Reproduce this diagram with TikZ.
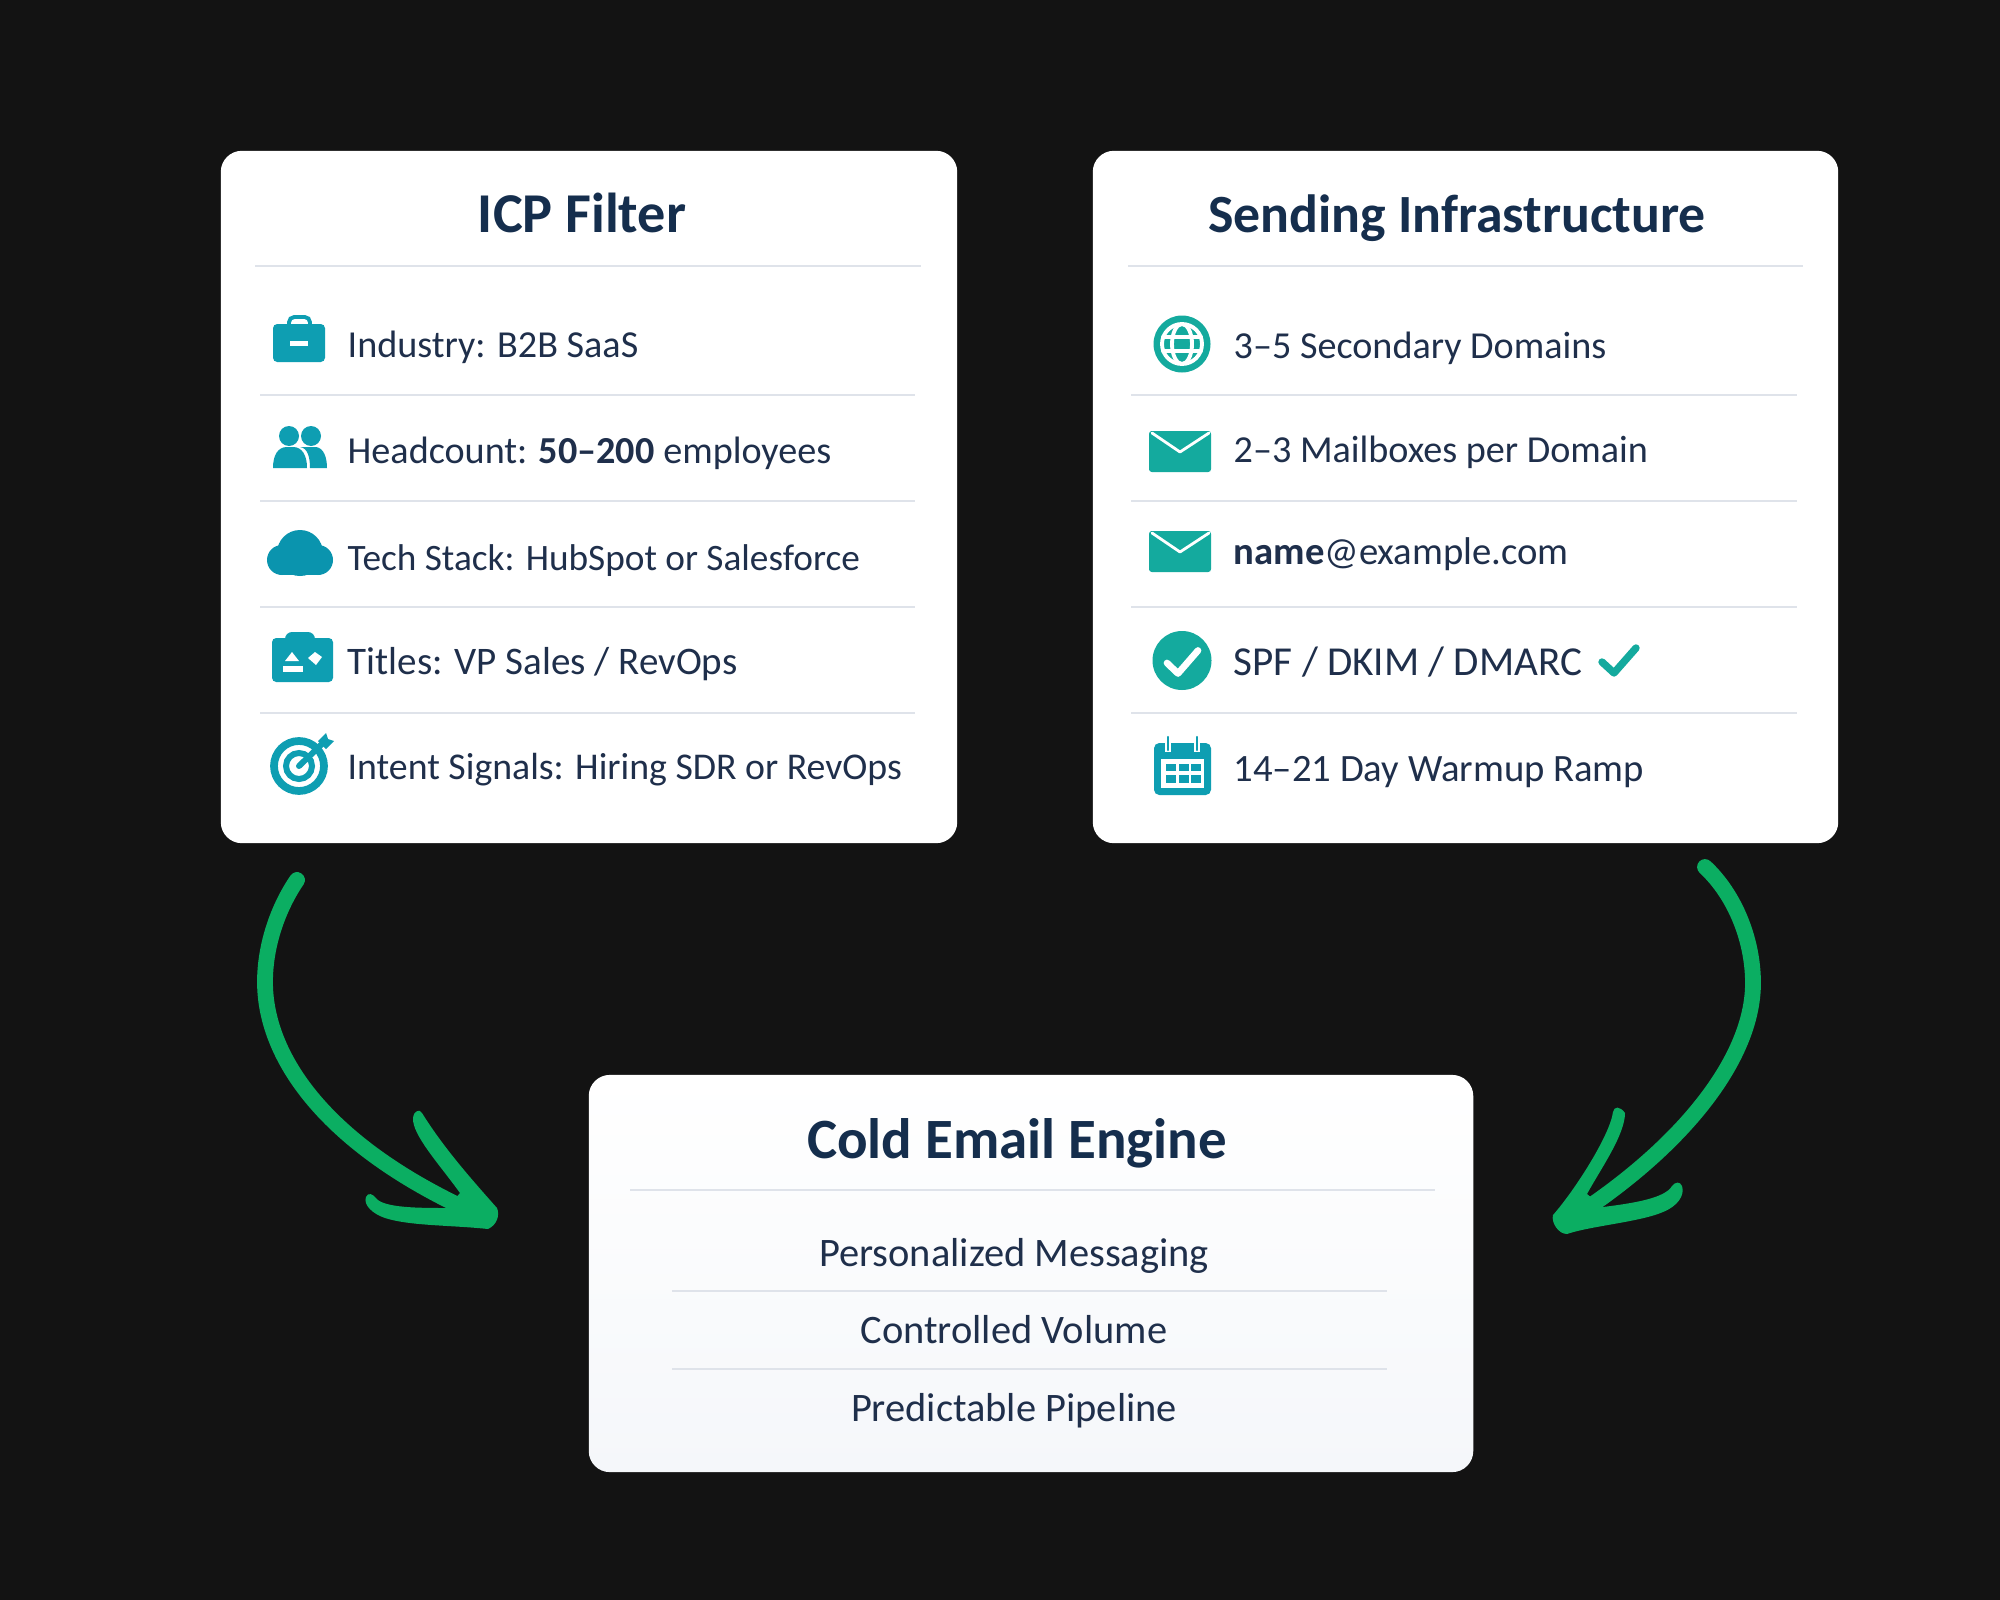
\documentclass[tikz,border=0pt]{standalone}
\usepackage{fontspec}
\setmainfont{Carlito}
\usetikzlibrary{calc}
\definecolor{pagebg}{HTML}{131313}
\definecolor{navy}{HTML}{1F2F4B}
\definecolor{titlenavy}{HTML}{152E4D}
\definecolor{rulegray}{HTML}{DFE3EA}
\definecolor{tealblue}{HTML}{0E9EB2}
\definecolor{cloudblue}{HTML}{0A94AE}
\definecolor{tealgreen}{HTML}{14AA9E}
\definecolor{arrowgreen}{HTML}{0BAE62}
\definecolor{panelfoot}{HTML}{F5F7FA}
\tikzset{
  panelbox/.style={rounded corners=6pt, inner sep=0pt, top color=white, bottom color=#1},
  paneltitle/.style={anchor=base, inner sep=0pt, text=titlenavy, font=\fontsize{#1}{18}\selectfont\bfseries},
  itemtext/.style={anchor=base west, inner sep=0pt, text=navy, font=\fontsize{#1}{12}\selectfont},
  itemtext/.default=10.85,
  centertext/.style={anchor=base, inner sep=0pt, text=navy, font=\fontsize{11.5}{12}\selectfont},
  rulerow/.style={rulegray, line width=.7pt},
  whiteline/.style={white, line cap=round, line join=round},
  arrowline/.style={arrowgreen, line width=4.5pt, line cap=round, line join=round}
}
\begin{document}
\begin{tikzpicture}[x=.01cm,y=-.01cm]
\fill[pagebg] (0,0) rectangle (2000,1600);
\useasboundingbox (0,0) rectangle (2000,1600);
% The three panels
\node[panelbox=white, minimum width=7.36cm, minimum height=6.92cm] (icp) at (589,497) {};
\node[panelbox=white, minimum width=7.45cm, minimum height=6.92cm] (infra) at (1465.5,497) {};
\node[panelbox=panelfoot, minimum width=8.84cm, minimum height=3.97cm] (engine) at (1031,1273.5) {};
\node[paneltitle=16] (icptitle) at (582,232) {ICP Filter};
\node[paneltitle=15.3] (infratitle) at (1457,232) {Sending Infrastructure};
\node[paneltitle=16.2] (enginetitle) at (1017,1158) {Cold Email Engine};
% The rules
%     left panel
\draw[rulerow] (255,266) -- (921,266);
\draw[rulerow] (260,395) -- (915,395);
\draw[rulerow] (260,501) -- (915,501);
\draw[rulerow] (260,607) -- (915,607);
\draw[rulerow] (260,713) -- (915,713);
%     right panel
\draw[rulerow] (1128,266) -- (1803,266);
\draw[rulerow] (1131,395) -- (1797,395);
\draw[rulerow] (1131,501) -- (1797,501);
\draw[rulerow] (1131,607) -- (1797,607);
\draw[rulerow] (1131,713) -- (1797,713);
%     bottom panel
\draw[rulerow] (630,1190) -- (1435,1190);
\draw[rulerow] (672,1291) -- (1387,1291);
\draw[rulerow] (672,1369) -- (1387,1369);
% The left texts
\node[itemtext] (industry) at (347,357) {Industry: B2B SaaS};
\node[itemtext] (headcount) at (347,463) {Headcount: \textbf{50–200} employees};
\node[itemtext=10.6] (techstack) at (347,570) {Tech Stack: HubSpot or Salesforce};
\node[itemtext=11.1] (titles) at (347,674) {Titles: VP Sales / RevOps};
\node[itemtext=10.75] (intent) at (347,779) {Intent Signals: Hiring SDR or RevOps};
% The right texts
\node[itemtext] (domains) at (1233,358) {3–5 Secondary Domains};
\node[itemtext] (mailboxes) at (1233,462) {2–3 Mailboxes per Domain};
\node[itemtext=11] (address) at (1233,564) {\textbf{name}@example.com};
\node[itemtext=11.7] (spf) at (1233,675) {SPF / DKIM / DMARC};
\node[itemtext=11] (warmup) at (1233,781) {14–21 Day Warmup Ramp};
% The bottom texts
\node[centertext] (messaging) at (1014,1266) {Personalized Messaging};
\node[centertext] (volume) at (1014,1343) {Controlled Volume};
\node[centertext] (pipeline) at (1014,1421) {Predictable Pipeline};
% The left icons
%     briefcase
\draw[tealblue, line width=1.1pt, rounded corners=1.5pt] (289,326) -- (289,317) -- (310,317) -- (310,326);
\fill[tealblue, rounded corners=1.2pt] (273,324) rectangle (325,362);
\fill[white] (290,341) rectangle (308,346);
%     people
\fill[tealblue] (289,436) circle (10);
\fill[tealblue] (311,436) circle (10);
\fill[tealblue] (310,468) .. controls (310,458) and (308,448) .. (300,447) -- (316,447) .. controls (324,448) and (327,458) .. (327,468) -- cycle;
\fill[tealblue] (273,468) .. controls (273,455) and (278,447) .. (287,447) -- (293,447) .. controls (302,447) and (307,455) .. (307,468) -- cycle;
%     cloud
\fill[cloudblue] (300,553) circle (23);
\fill[cloudblue] (282,560) circle (15);
\fill[cloudblue] (318,560) circle (15);
\fill[cloudblue] (282,552) rectangle (318,575);
%     id card
\fill[tealblue, rounded corners=1.2pt] (272,638) rectangle (333,682);
\fill[tealblue, rounded corners=2pt] (285,632) rectangle (315,645);
\fill[white] (285,661) -- (292,652) -- (299,661) -- cycle;
\fill[white] (283,666) rectangle (303,672);
\fill[white] (308,658) -- (315,652) -- (322,657) -- (316,665) -- cycle;
%     target
\draw[tealblue, line width=2.2pt] (299,766) circle (25);
\draw[tealblue, line width=1.7pt] (299,766) circle (13);
\draw[tealblue, line width=1.7pt, line cap=round] (299,766) -- (322,744);
\fill[tealblue] (318,741) -- (326,733) -- (328,739) -- (334,741) -- (326,749) -- cycle;
% The right icons
%     globe
\fill[tealgreen] (1182,344) circle (28.5);
\draw[whiteline, line width=1.1pt] (1182,344) circle (20);
\draw[whiteline, line width=1.1pt] (1182,344) ellipse (10 and 20);
\draw[whiteline, line width=1.1pt] (1163,337) -- (1201,337);
\draw[whiteline, line width=1.1pt] (1163,351) -- (1201,351);
%     envelopes
\fill[tealgreen, rounded corners=.8pt] (1149,431) rectangle (1211,472);
\draw[whiteline, line width=.8pt] (1152,433) -- (1180,452) -- (1209,433);
\fill[tealgreen, rounded corners=.8pt] (1149,531) rectangle (1211,572);
\draw[whiteline, line width=.8pt] (1152,533) -- (1180,552) -- (1209,533);
%     check
\fill[tealgreen] (1182,660.5) circle (29.5);
\draw[whiteline, line width=1.9pt] (1167,663) -- (1178,673.5) -- (1198,650.5);
\draw[tealgreen, line width=2.1pt, line cap=round, line join=round] (1602,662) -- (1614,673) -- (1636,648);
%     calendar
\fill[tealblue, rounded corners=1.5pt] (1154,743) rectangle (1211,795);
\fill[white] (1161,759) rectangle (1204,788);
\draw[white, line width=1.6pt] (1168,735) -- (1168,752);
\draw[white, line width=1.6pt] (1197,735) -- (1197,752);
\draw[tealblue, line width=.7pt, line cap=round] (1168,737) -- (1168,750);
\draw[tealblue, line width=.7pt, line cap=round] (1197,737) -- (1197,750);
\fill[tealblue] (1166,764) rectangle (1176,771);
\fill[tealblue] (1178.5,764) rectangle (1188.5,771);
\fill[tealblue] (1191,764) rectangle (1201,771);
\fill[tealblue] (1166,775) rectangle (1176,783);
\fill[tealblue] (1178.5,775) rectangle (1188.5,783);
\fill[tealblue] (1191,775) rectangle (1201,783);
% The arrows
\coordinate (leftstart) at (297,880);
\coordinate (lefttip) at (484,1217);
\coordinate (rightstart) at (1705,867);
\coordinate (righttip) at (1566,1222);
%     left arrow
\draw[arrowline] (leftstart) .. controls (278,908) and (265,945) .. (265,982) .. controls (265,1060) and (330,1150) .. (lefttip);
\fill[arrowgreen] (422,1113) .. controls (445,1150) and (475,1183) .. (497,1208) .. controls (500,1215) and (497,1225) .. (488,1229) .. controls (450,1225) and (410,1226) .. (385,1218) .. controls (373,1214) and (363,1205) .. (366,1197) .. controls (368,1192) and (373,1194) .. (376,1198) .. controls (383,1208) and (420,1208) .. (447,1208) -- (460,1193) .. controls (440,1165) and (412,1135) .. (413,1118) .. controls (414,1110) and (420,1109) .. (422,1113) -- cycle;
%     right arrow
\draw[arrowline] (rightstart) .. controls (1735,895) and (1753,940) .. (1753,983) .. controls (1753,1060) and (1680,1150) .. (righttip);
\fill[arrowgreen] (1625,1113) .. controls (1620,1106) and (1614,1106) .. (1613,1112) .. controls (1610,1135) and (1575,1190) .. (1553,1215) .. controls (1551,1222) and (1558,1234) .. (1567,1234) .. controls (1590,1226) and (1640,1222) .. (1663,1212) .. controls (1678,1206) and (1685,1195) .. (1682,1186) .. controls (1680,1181) and (1675,1182) .. (1672,1186) .. controls (1665,1198) and (1635,1203) .. (1603,1207) -- (1587,1194) .. controls (1600,1170) and (1625,1135) .. (1625,1113) -- cycle;
\end{tikzpicture}
\end{document}
